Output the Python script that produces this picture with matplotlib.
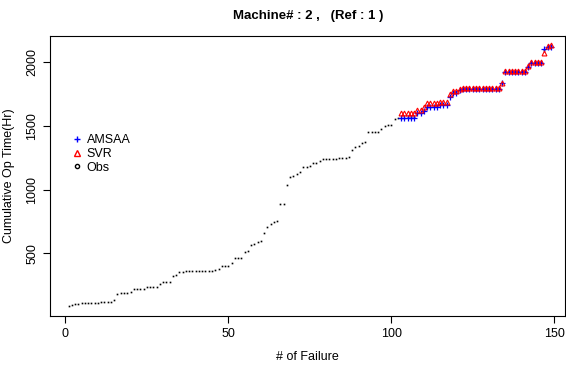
import numpy as np
import matplotlib
matplotlib.use("Agg")
import matplotlib.pyplot as plt

plt.rcParams['font.family'] = ['Liberation Sans', 'DejaVu Sans']

# observed cumulative operating time per failure
obs = [90, 95, 103, 106, 108, 110, 111, 112, 112, 113, 114, 115, 116, 118, 132,
       182, 186, 188, 191, 196, 218, 221, 222, 223, 232, 233, 234, 236, 262, 275,
       276, 277, 322, 326, 356, 357, 358, 358, 359, 359, 360, 360, 361, 362, 364,
       366, 377, 398, 400, 401, 426, 462, 463, 465, 514, 520, 566, 573, 590, 597,
       657, 708, 727, 745, 750, 887, 889, 1032, 1096, 1109, 1122, 1138, 1180, 1181, 1182,
       1208, 1210, 1227, 1238, 1239, 1240, 1241, 1243, 1245, 1246, 1248, 1252, 1311, 1336,
       1338, 1363, 1373, 1450, 1451, 1452, 1454, 1478, 1502, 1503, 1505, 1557, 1562,
       1565, 1565, 1566, 1566, 1567, 1600, 1602, 1625, 1650, 1651, 1652, 1653, 1668, 1669,
       1670, 1735, 1765, 1766, 1785, 1795, 1795, 1796, 1796, 1797, 1797, 1798, 1798, 1799,
       1799, 1800, 1800, 1835, 1925, 1926, 1927, 1928, 1929, 1930, 1931, 1962, 1998, 1999,
       2000, 2001, 2095, 2125, 2128]
fail_idx = list(range(1, len(obs) + 1))

# forecasts for the last failures
pred_idx = list(range(103, 150))
amsaa = [1562, 1562, 1562, 1562, 1562, 1599, 1599, 1620, 1646, 1646, 1646, 1646, 1664, 1664,
         1664, 1729, 1761, 1761, 1780, 1792, 1792, 1792, 1792, 1792, 1792, 1792, 1792, 1792,
         1792, 1792, 1792, 1834, 1921, 1921, 1921, 1921, 1921, 1921, 1921, 1960, 1996, 1996,
         1996, 1996, 2104, 2118, 2122]
svr = [1602, 1603, 1603, 1604, 1604, 1625, 1626, 1651, 1677, 1677, 1678, 1678, 1690, 1690,
       1691, 1750, 1776, 1776, 1790, 1800, 1800, 1800, 1800, 1800, 1800, 1800, 1800, 1800,
       1800, 1800, 1800, 1837, 1933, 1933, 1933, 1933, 1933, 1933, 1933, 1970, 2004, 2004,
       2004, 2004, 2075, 2125, 2132]

fig = plt.figure(figsize=(5.66, 3.65), dpi=100)
ax = fig.add_axes([50 / 566, 49 / 365, 515 / 566, 280 / 365])

ax.plot(fail_idx, obs, linestyle='none', marker='s', markersize=1.2,
        color='black', markeredgewidth=0)
ax.plot(pred_idx, amsaa, linestyle='none', marker='+', markersize=4.5,
        color='blue', markeredgewidth=0.9)
ax.plot(pred_idx, svr, linestyle='none', marker='^', markersize=3.5,
        markerfacecolor='none', markeredgecolor='red', markeredgewidth=0.8)

ax.set_xlim(-4.7, 153.3)
ax.set_ylim(8, 2205)
ax.set_xticks([0, 50, 100, 150])
ax.set_yticks([500, 1000, 1500, 2000])
ax.tick_params(direction='out', length=5, labelsize=9, width=0.8)
for lab in ax.get_yticklabels():
    lab.set_rotation(90)
    lab.set_va('center')
for s in ax.spines.values():
    s.set_linewidth(0.8)

ax.set_xlabel('# of Failure', fontsize=9, labelpad=8)
ax.set_ylabel('Cumulative Op Time(Hr)', fontsize=9, labelpad=8)
fig.text(308 / 566, 1 - 16 / 365, 'Machine# : 2 ,   (Ref : 1 )', ha='center',
         va='center', fontsize=9.5, fontweight='bold')

# legend, no box
h1, = ax.plot([], [], linestyle='none', marker='+', markersize=5, color='blue')
h2, = ax.plot([], [], linestyle='none', marker='^', markersize=4,
              markerfacecolor='none', markeredgecolor='red')
h3, = ax.plot([], [], linestyle='none', marker='o', markersize=3,
              markerfacecolor='none', markeredgecolor='black')
ax.legend([h1, h2, h3], ['AMSAA', 'SVR', 'Obs'], loc='upper left',
          bbox_to_anchor=(0.03, 0.672), frameon=False, fontsize=9,
          handlelength=0.8, handletextpad=0.4, labelspacing=0.15,
          borderpad=0)

fig.savefig('out.png', dpi=100)
